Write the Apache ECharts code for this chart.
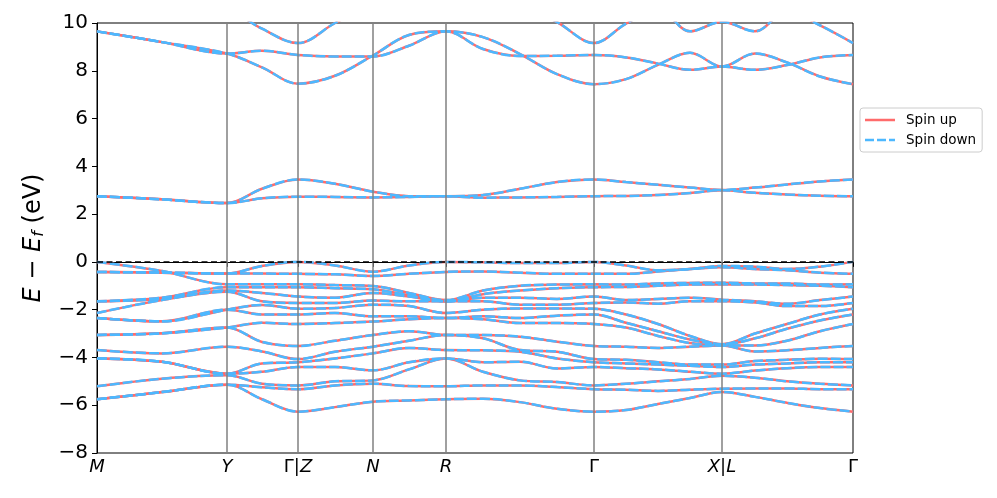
<!DOCTYPE html>
<html>
<head>
<meta charset="utf-8">
<script src="https://cdn.jsdelivr.net/npm/echarts@6/dist/echarts.min.js"></script>
<style>
  html, body { margin: 0; padding: 0; background: #fff; }
  #chart { width: 997px; height: 498px; }
</style>
</head>
<body>
<div id="chart"></div>
<script>
// high symmetry points along the k path
const kTicks = [0, 130, 201, 276, 349, 497, 625, 756];
const kLabels = ['M', 'Y', 'Γ|Z', 'N', 'R', 'Γ', 'X|L', 'Γ'];
// sample positions where each band energy was read
const kSample = [0, 65, 130, 165, 201, 238, 276, 312, 349, 386, 423, 460, 497, 529, 561, 593, 625, 658, 690, 723, 756];

// conduction bands (eV), values above 10 are clipped
const bandA = [9.65, 9.2, 8.72, 8.84, 8.66, 8.6, 8.6, 9.05, 9.65, 8.91, 8.62, 8.63, 8.66, 8.56, 8.3, 8.04, 8.18, 8.04, 8.24, 8.56, 8.66];
const bandB = [9.65, 9.2, 8.72, 8.14, 7.46, 7.79, 8.64, 9.5, 9.65, 9.41, 8.7, 7.86, 7.44, 7.65, 8.25, 8.75, 8.18, 8.72, 8.35, 7.76, 7.44];
const bandC = [11.5, 11.2, 10.6, 9.76, 9.16, 10.0, 10.8, 11.2, 11.3, 11.2, 10.8, 10.04, 9.16, 9.97, 10.6, 9.65, 10.05, 9.65, 10.5, 9.9, 9.16];
// bands just above the gap
const gapUp = [2.75, 2.62, 2.46, 3.06, 3.45, 3.27, 2.94, 2.75, 2.75, 2.8, 3.06, 3.34, 3.45, 3.34, 3.23, 3.11, 3.01, 3.11, 3.24, 3.37, 3.45];
const gapLow = [2.75, 2.62, 2.46, 2.66, 2.73, 2.72, 2.70, 2.72, 2.75, 2.69, 2.70, 2.72, 2.75, 2.76, 2.8, 2.88, 3.0, 2.89, 2.82, 2.77, 2.75];
// valence bands
const valence = [
  [-0.42, -0.45, -0.49, -0.17, 0, -0.15, -0.41, -0.15, 0, -0.02, -0.05, -0.05, 0, -0.15, -0.35, -0.3, -0.17, -0.2, -0.3, -0.2, 0],
  [-0.42, -0.45, -0.49, -0.49, -0.5, -0.52, -0.59, -0.5, -0.42, -0.4, -0.45, -0.5, -0.5, -0.5, -0.4, -0.3, -0.22, -0.3, -0.35, -0.45, -0.5],
  [0, -0.38, -0.94, -0.94, -0.94, -0.97, -1.01, -1.3, -1.6, -1.2, -1.0, -0.95, -0.94, -0.95, -0.9, -0.88, -0.87, -0.9, -0.9, -0.95, -0.94],
  [-1.65, -1.5, -1.06, -1.06, -1.06, -1.1, -1.15, -1.4, -1.65, -1.35, -1.2, -1.1, -1.06, -1.05, -1.0, -0.95, -0.94, -0.95, -0.97, -1.0, -1.06],
  [-1.65, -1.55, -1.2, -1.3, -1.45, -1.5, -1.3, -1.45, -1.65, -1.5, -1.5, -1.55, -1.45, -1.6, -1.55, -1.5, -1.58, -1.65, -1.75, -1.6, -1.45],
  [-2.14, -1.6, -1.25, -1.65, -1.72, -1.72, -1.62, -1.65, -1.65, -1.65, -1.79, -1.79, -1.72, -1.7, -1.75, -1.65, -1.65, -1.7, -1.85, -1.85, -1.72],
  [-2.35, -2.49, -2.0, -1.8, -1.96, -1.93, -1.79, -1.85, -2.14, -2.0, -1.95, -1.95, -1.96, -2.2, -2.6, -3.1, -3.45, -3.0, -2.6, -2.2, -1.96],
  [-2.35, -2.49, -2.0, -2.2, -2.2, -2.14, -2.28, -2.28, -2.35, -2.28, -2.35, -2.25, -2.2, -2.55, -2.9, -3.25, -3.45, -3.2, -2.8, -2.45, -2.2],
  [-3.06, -2.99, -2.75, -2.55, -2.6, -2.56, -2.5, -2.4, -2.35, -2.4, -2.56, -2.56, -2.6, -2.75, -3.1, -3.4, -3.5, -3.5, -3.3, -2.9, -2.6],
  [-3.06, -2.99, -2.75, -3.35, -3.52, -3.3, -3.06, -2.9, -3.06, -3.06, -3.13, -3.34, -3.52, -3.55, -3.6, -3.55, -3.5, -3.75, -3.7, -3.6, -3.52],
  [-3.69, -3.83, -3.55, -3.75, -4.07, -3.76, -3.55, -3.3, -3.06, -3.2, -3.69, -3.76, -4.07, -4.1, -4.2, -4.3, -4.3, -4.15, -4.1, -4.05, -4.07],
  [-4.04, -4.18, -4.68, -4.25, -4.2, -4.04, -3.83, -3.6, -3.69, -3.7, -3.76, -4.04, -4.2, -4.25, -4.3, -4.35, -4.4, -4.3, -4.25, -4.2, -4.2],
  [-4.04, -4.18, -4.68, -4.6, -4.4, -4.4, -4.54, -4.2, -4.04, -4.2, -4.18, -4.46, -4.4, -4.45, -4.5, -4.6, -4.68, -4.55, -4.45, -4.4, -4.4],
  [-5.21, -4.89, -4.75, -5.1, -5.17, -5.0, -4.96, -4.5, -4.04, -4.6, -4.96, -5.03, -5.17, -5.1, -5.0, -4.9, -4.77, -4.85, -5.0, -5.1, -5.17],
  [-5.75, -5.45, -5.14, -5.25, -5.33, -5.17, -5.1, -5.2, -5.21, -5.17, -5.17, -5.24, -5.33, -5.35, -5.4, -5.35, -5.31, -5.3, -5.3, -5.33, -5.33],
  [-5.75, -5.45, -5.14, -5.75, -6.27, -6.08, -5.85, -5.8, -5.75, -5.73, -5.87, -6.15, -6.27, -6.2, -5.95, -5.7, -5.45, -5.65, -5.9, -6.12, -6.27]
];

const upColor = '#ff6b6b';
const downColor = '#4db8ff';
const font = 'DejaVu Sans';

const bands = [bandA, bandB, bandC, gapUp, gapLow].concat(valence);

function toPoints(vals) {
  return kSample.map((k, i) => [k, vals[i]]);
}

let series = [];
// vertical lines at the symmetry points
series.push({
  type: 'line', data: [], z: 1, silent: true,
  markLine: {
    symbol: ['none', 'none'], silent: true, animation: false,
    label: { show: false },
    lineStyle: { color: '#808080', width: 1.5, type: 'solid' },
    data: kTicks.slice(1, -1).map(k => ({ xAxis: k }))
  }
});
bands.forEach(b => {
  series.push({
    name: 'Spin up', type: 'line', data: toPoints(b), symbol: 'none', smooth: 0.35, z: 2,
    color: upColor, lineStyle: { color: upColor, width: 2.5 }, silent: true
  });
});
bands.forEach(b => {
  series.push({
    name: 'Spin down', type: 'line', data: toPoints(b), symbol: 'none', smooth: 0.35, z: 3,
    color: downColor, lineStyle: { color: downColor, width: 2.5, type: [10, 3] }, silent: true
  });
});
// fermi level
series.push({
  type: 'line', data: [], z: 4, silent: true,
  markLine: {
    symbol: ['none', 'none'], silent: true, animation: false,
    label: { show: false },
    lineStyle: { color: '#000', width: 1.5, type: [6, 3.5] },
    data: [{ yAxis: 0 }]
  }
});

function kFormat(v) {
  const i = kTicks.indexOf(v);
  if (i < 0) return '';
  return kLabels[i].split('').map(c => c === 'Γ' || c === '|' ? '{g|' + c + '}' : '{i|' + c + '}').join('');
}

const chart = echarts.init(document.getElementById('chart'), null, { renderer: 'canvas' });
chart.setOption({
  animation: false,
  grid: { left: 97, right: 144, top: 23, bottom: 45, show: true, borderColor: '#000', borderWidth: 1, backgroundColor: 'transparent' },
  legend: {
    data: [
      { name: 'Spin up', icon: 'path://M0,0h30v2.5H0z' },
      { name: 'Spin down', icon: 'path://M0,0h9v2.5H0zM12,0h9v2.5h-9zM24,0h6v2.5h-6z' }
    ],
    orient: 'vertical', left: 860, top: 108,
    itemWidth: 30, itemHeight: 2.5, itemGap: 6,
    padding: [5, 6, 5, 5],
    borderColor: '#cccccc', borderWidth: 1, borderRadius: 3,
    textStyle: { fontFamily: font, fontSize: 13.5, color: '#000', padding: [0, 0, 0, 6] }
  },
  xAxis: {
    type: 'value', min: 0, max: 756,
    axisLine: { lineStyle: { color: '#000', width: 1 } },
    axisTick: { customValues: kTicks, length: 5, lineStyle: { color: '#000' } },
    axisLabel: {
      customValues: kTicks, formatter: kFormat, margin: 5, color: '#000',
      rich: {
        i: { fontFamily: font, fontSize: 18, fontStyle: 'italic', color: '#000' },
        g: { fontFamily: font, fontSize: 18, color: '#000' }
      }
    },
    splitLine: { show: false }
  },
  yAxis: {
    type: 'value', min: -8, max: 10, interval: 2,
    axisLine: { show: true, lineStyle: { color: '#000', width: 1 } },
    axisTick: { show: true, length: 5, lineStyle: { color: '#000' } },
    axisLabel: {
      fontFamily: font, fontSize: 20, color: '#000', margin: 9,
      formatter: v => (v < 0 ? '\u2212' + Math.abs(v) : String(v))
    },
    splitLine: { show: false },
    name: '{i|E} \u2212 {i|E}{s|f} (eV)',
    nameLocation: 'middle', nameGap: 50, nameRotate: 90,
    nameTextStyle: {
      fontFamily: font, fontSize: 24, color: '#000',
      rich: {
        i: { fontFamily: font, fontSize: 24, fontStyle: 'italic', color: '#000' },
        s: { fontFamily: font, fontSize: 16, fontStyle: 'italic', color: '#000', padding: [10, 0, 0, 0] }
      }
    }
  },
  series: series
});
</script>
</body>
</html>
